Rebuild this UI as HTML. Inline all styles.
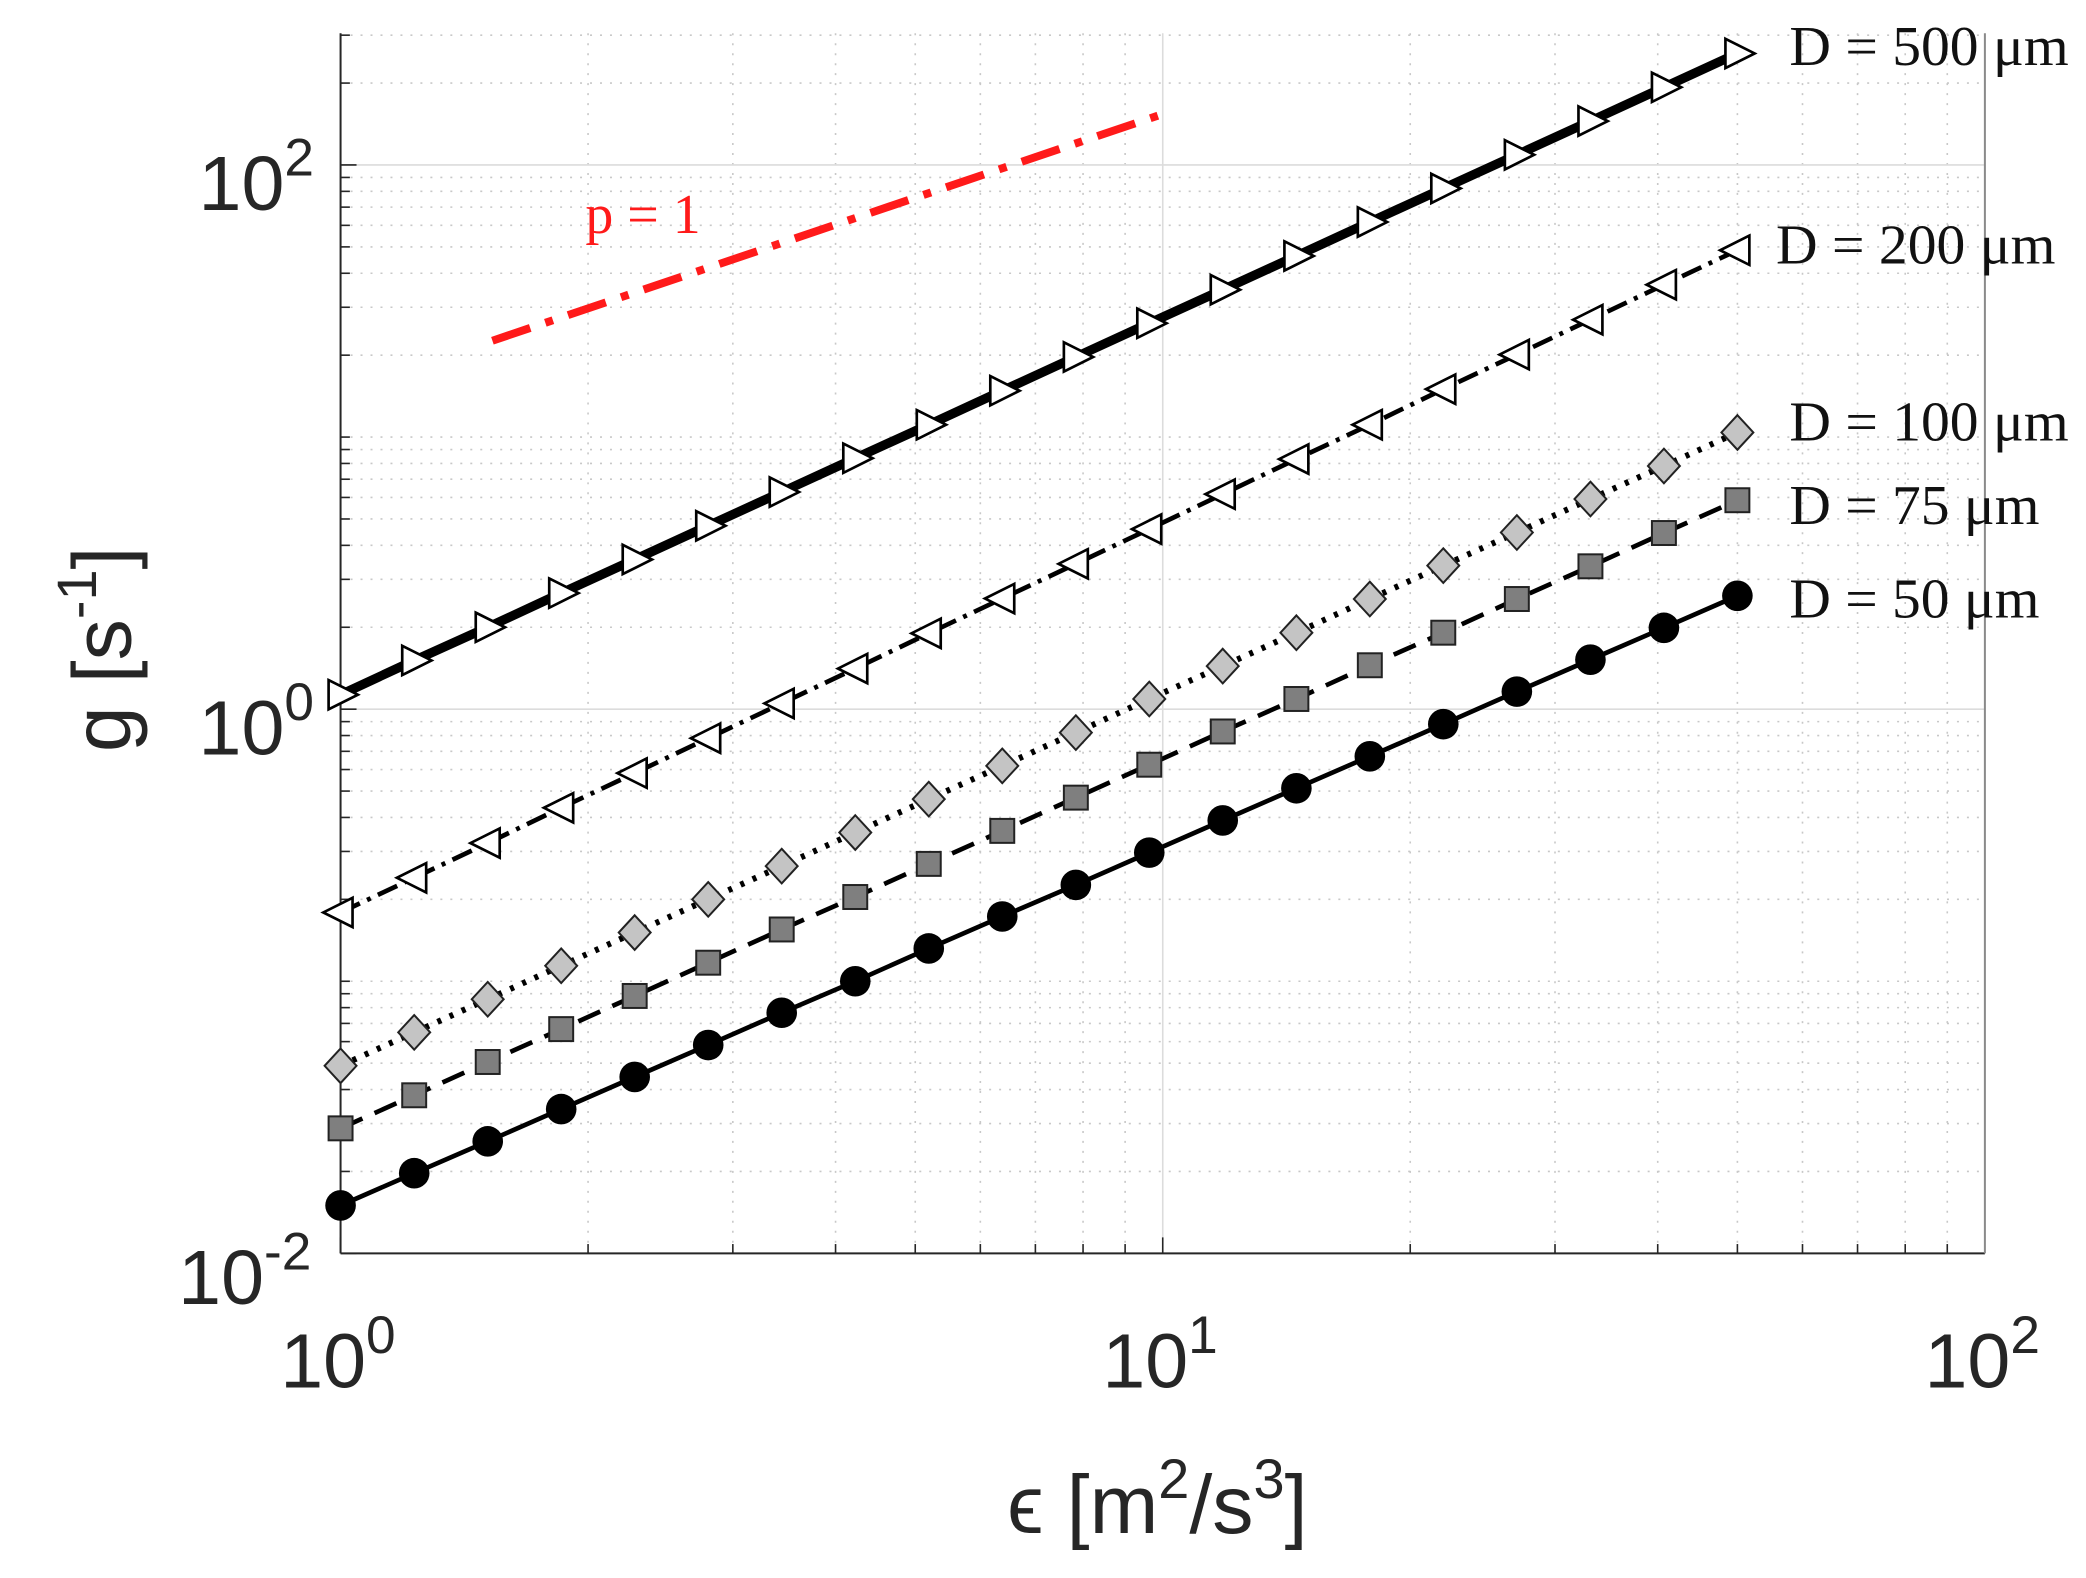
<!DOCTYPE html>
<html><head><meta charset="utf-8"><style>
html,body{margin:0;padding:0;background:#fff;}
svg{display:block;}
</style></head><body>
<svg id="chart" width="2086" height="1578" viewBox="0 0 1568 1186" preserveAspectRatio="none" xmlns="http://www.w3.org/2000/svg">
<g id="grid"></g>
<g id="axes"></g>
<g id="series"></g>
<g id="labels"></g>
</svg>
<script>
const xs = [1,1.229,1.51,1.855,2.279,2.8,3.44,4.227,5.193,6.38,7.84,9.63,11.83,14.54,17.86,21.94,26.96,33.13,40.7,50];
const g500 = [1.13,1.51,2.00,2.67,3.55,4.72,6.28,8.36,11.1,14.8,19.7,26.2,34.8,46.3,61.7,82.0,109,145,193,257];
const g200 = [0.179,0.240,0.322,0.434,0.582,0.782,1.05,1.41,1.90,2.55,3.42,4.59,6.17,8.30,11.1,15.0,20.1,27.0,36.3,48.6];
const g100 = [0.0489,0.0649,0.0859,0.114,0.151,0.200,0.265,0.352,0.467,0.619,0.820,1.09,1.44,1.91,2.54,3.37,4.46,5.92,7.83,10.4];
const g75 = [0.0288,0.0381,0.0505,0.0667,0.0883,0.117,0.155,0.204,0.270,0.357,0.473,0.625,0.828,1.09,1.45,1.91,2.54,3.35,4.44,5.86];
const g50 = [0.0150,0.0197,0.0258,0.0339,0.0445,0.0583,0.0766,0.100,0.132,0.173,0.226,0.297,0.390,0.512,0.671,0.881,1.16,1.52,1.99,2.61];
const refX = [1.53,10.07];
const refY = [22.6,155];
const xTickVals = [1,10,100];
const xTickExp = ["0","1","2"];
const yTickVals = [0.01,1,100];
const yTickExp = ["-2","0","2"];
const seriesNames = ["D = 500 μm","D = 200 μm","D = 100 μm","D = 75 μm","D = 50 μm"];

const X0=256,X1=1492,YB=942,YT=25,PXX=618,PXY=204.5;
const sx=v=>X0+Math.log10(v)*PXX;
const sy=v=>YB-(Math.log10(v)+2)*PXY;
const NS="http://www.w3.org/2000/svg";
function mk(tag,attrs,parent){const e=document.createElementNS(NS,tag);for(const k in attrs)e.setAttribute(k,attrs[k]);parent.appendChild(e);return e;}
const grid=document.getElementById('grid'),axes=document.getElementById('axes'),ser=document.getElementById('series'),lab=document.getElementById('labels');

for(let d=0;d<2;d++)for(let m=1;m<10;m++){const v=Math.pow(10,d)*m;const x=sx(v);
 const l=mk('line',{x1:x,x2:x,y1:YT,y2:YB,stroke:m==1?'#dcdcdc':'#c8c8c8','stroke-width':1.2,'stroke-dasharray':m==1?'none':'1.5 6'},grid);
 
 }
for(let d=-2;d<3;d++)for(let m=1;m<10;m++){const v=Math.pow(10,d)*m;const y=sy(v);if(y<YT)continue;
 const major=(m==1&&d%2==0);
 const l=mk('line',{x1:X0,x2:X1,y1:y,y2:y,stroke:major?'#dcdcdc':'#c8c8c8','stroke-width':1.2,'stroke-dasharray':major?'none':'1.5 6'},grid);
 
 }

let a=mk('line',{x1:X0,x2:X0,y1:YT,y2:YB,stroke:'#262626','stroke-width':1.5},axes);

a=mk('line',{x1:X0,x2:X1,y1:YB,y2:YB,stroke:'#262626','stroke-width':1.5},axes);

a=mk('line',{x1:X1,x2:X1,y1:YT,y2:YB,stroke:'#8a8a8a','stroke-width':1.5},axes);

for(let d=0;d<2;d++)for(let m=1;m<10;m++){const x=sx(Math.pow(10,d)*m);
 const t=mk('line',{x1:x,x2:x,y1:YB,y2:YB-(m==1?12:7),stroke:'#262626','stroke-width':1.2},axes);
 }
for(let d=-2;d<3;d++)for(let m=1;m<10;m++){const y=sy(Math.pow(10,d)*m);if(y<YT)continue;
 const t=mk('line',{x1:X0,x2:X0+(m==1&&d%2==0?12:7),y1:y,y2:y,stroke:'#262626','stroke-width':1.2},axes);
 }

const sans='"Liberation Sans", sans-serif', serif='"Liberation Serif", serif';
xTickVals.forEach((v,i)=>{const t=mk('text',{x:sx(v)-2,y:1043,'text-anchor':'middle','font-family':sans,'font-size':58,fill:'#262626'},lab);
 
 t.textContent='10';const s=mk('tspan',{dy:-26,'font-size':40},t);s.textContent=xTickExp[i];});
yTickVals.forEach((v,i)=>{const t=mk('text',{x:i==0?234:236,y:sy(v)+(i==0?38:34),'text-anchor':'end','font-family':sans,'font-size':58,fill:'#262626'},lab);
 
 t.textContent='10';const s=mk('tspan',{dy:-26,'font-size':40},t);s.textContent=yTickExp[i];});

let t=mk('text',{x:870,y:1152,'text-anchor':'middle','font-family':sans,'font-size':62,fill:'#262626'},lab);

t.innerHTML='ϵ [m<tspan dy="-26" font-size="42">2</tspan><tspan dy="26">/s</tspan><tspan dy="-26" font-size="42">3</tspan><tspan dy="26">]</tspan>';
t=mk('text',{x:0,y:0,transform:'translate(98,488) rotate(-90)','text-anchor':'middle','font-family':sans,'font-size':62,fill:'#262626'},lab);

t.innerHTML='g [s<tspan dy="-26" font-size="42">-1</tspan><tspan dy="26">]</tspan>';

let r=mk('line',{x1:sx(refX[0]),y1:sy(refY[0]),x2:sx(refX[1]),y2:sy(refY[1]),stroke:'#ff1a1a','stroke-width':6,'stroke-dasharray':'30 12 6 12'},ser);

t=mk('text',{x:440,y:175,'font-family':serif,'font-size':42,fill:'#ff1a1a'},lab);
t.textContent='p = 1';

function line(data,width,dash,name){const pts=xs.map((x,i)=>sx(x)+','+sy(data[i])).join(' ');
 const p=mk('polyline',{points:pts,fill:'none',stroke:'#000','stroke-width':width,'stroke-dasharray':dash},ser);
 }
line(g500,7,'none','line-d500');
line(g200,3.5,'16 6 3 6','line-d200');
line(g100,4.5,'3 7','line-d100');
line(g75,3.5,'18 10','line-d75');
line(g50,3.5,'none','line-d50');

xs.forEach((x,i)=>{const cx=sx(x);let y,m;
 y=sy(g500[i]);m=mk('polygon',{points:`${cx-9},${y-11} ${cx+13},${y} ${cx-9},${y+11}`,fill:'#fff',stroke:'#000','stroke-width':2},ser);
 
 y=sy(g200[i]);m=mk('polygon',{points:`${cx+9},${y-11} ${cx-13},${y} ${cx+9},${y+11}`,fill:'#fff',stroke:'#000','stroke-width':2},ser);
 
 y=sy(g100[i]);m=mk('polygon',{points:`${cx},${y-13} ${cx+12},${y} ${cx},${y+13} ${cx-12},${y}`,fill:'#c4c4c4',stroke:'#222','stroke-width':1.5},ser);
 
 y=sy(g75[i]);m=mk('rect',{x:cx-9,y:y-9,width:18,height:18,fill:'#7f7f7f',stroke:'#222','stroke-width':1.5},ser);
 
 y=sy(g50[i]);m=mk('circle',{cx:cx,cy:y,r:11.5,fill:'#000'},ser);
 
});

const labX=[1345,1335,1345,1345,1345],labY=[49,198,331,394,464],labW=[210,210,210,188,188];
seriesNames.forEach((s,i)=>{const e=mk('text',{x:labX[i],y:labY[i],'font-family':serif,'font-size':42,fill:'#111',textLength:labW[i],lengthAdjust:'spacingAndGlyphs'},lab);
 e.textContent=s;});
</script>
</body></html>
